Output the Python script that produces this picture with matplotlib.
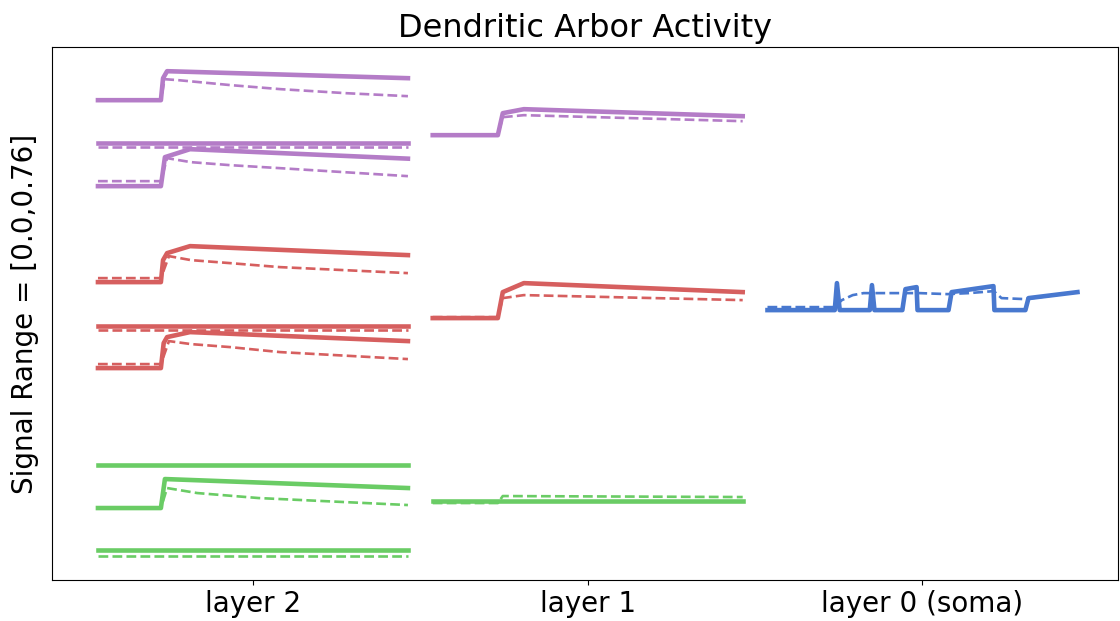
import matplotlib
matplotlib.use('Agg')
import matplotlib.pyplot as plt
import numpy as np

# compartment colours (old seaborn "muted")
purple = '#B47CC7'
red = '#D65F5F'
green = '#6ACC65'
blue = '#4878CF'

layer_names = ['layer 2', 'layer 1', 'layer 0 (soma)']
col_offset = 108.0   # horizontal spacing between layer columns (time units)
t_end = 100.0

# ---- layer 2 compartments: (time, value) for solid = activity, dashed = trace ----
l2_p1_t = [0, 20.3, 21, 22.3, 100]
l2_p1_y = [5.00, 5.00, 5.22, 5.29, 5.22]
l2_p1_dt = [0, 20.3, 21.5, 26, 43, 59, 80, 100]
l2_p1_dy = [5.00, 5.00, 5.21, 5.20, 5.15, 5.11, 5.07, 5.04]

l2_p2_t = [0, 100]
l2_p2_y = [4.57, 4.57]
l2_p2_dt = [0, 100]
l2_p2_dy = [4.53, 4.53]

l2_p3_t = [0, 20.3, 21.6, 29.7, 100]
l2_p3_y = [4.14, 4.14, 4.43, 4.51, 4.415]
l2_p3_dt = [0, 20.3, 22.3, 30, 42.6, 58.7, 100]
l2_p3_dy = [4.19, 4.19, 4.42, 4.38, 4.35, 4.32, 4.24]

l2_r1_t = [0, 20.3, 21, 22.3, 29.7, 100]
l2_r1_y = [3.18, 3.18, 3.40, 3.47, 3.54, 3.45]
l2_r1_dt = [0, 20.3, 22.9, 30, 42.6, 58.7, 100]
l2_r1_dy = [3.22, 3.22, 3.44, 3.40, 3.37, 3.33, 3.27]

l2_r2_t = [0, 100]
l2_r2_y = [2.74, 2.74]
l2_r2_dt = [0, 100]
l2_r2_dy = [2.70, 2.70]

l2_r3_t = [0, 20.3, 21.2, 22.3, 29.7, 100]
l2_r3_y = [2.32, 2.32, 2.57, 2.63, 2.68, 2.59]
l2_r3_dt = [0, 20.3, 22.9, 30, 42.6, 58.7, 100]
l2_r3_dy = [2.36, 2.36, 2.59, 2.56, 2.53, 2.48, 2.41]

l2_g1_t = [0, 100]
l2_g1_y = [1.35, 1.35]
l2_g1_dt = [0, 100]
l2_g1_dy = [1.35, 1.35]

l2_g2_t = [0, 20.3, 21.6, 100]
l2_g2_y = [0.92, 0.92, 1.21, 1.12]
l2_g2_dt = [0, 20.3, 22.3, 32, 51.8, 100]
l2_g2_dy = [0.92, 0.92, 1.12, 1.07, 1.02, 0.95]

l2_g3_t = [0, 100]
l2_g3_y = [0.50, 0.50]
l2_g3_dt = [0, 100]
l2_g3_dy = [0.44, 0.44]

# ---- layer 1 ----
l1_p_t = [0, 21, 22.6, 29.4, 100]
l1_p_y = [4.65, 4.65, 4.87, 4.91, 4.84]
l1_p_dt = [0, 21, 22.6, 29.4, 100]
l1_p_dy = [4.65, 4.65, 4.83, 4.85, 4.79]

l1_r_t = [0, 21, 22.6, 29.4, 100]
l1_r_y = [2.82, 2.82, 3.08, 3.17, 3.08]
l1_r_dt = [0, 21, 22.6, 29.4, 100]
l1_r_dy = [2.83, 2.83, 3.02, 3.05, 3.00]

l1_g_t = [0, 100]
l1_g_y = [0.99, 0.99]
l1_g_dt = [0, 21, 22.6, 100]
l1_g_dy = [0.97, 0.97, 1.04, 1.03]

# ---- layer 0 (soma) ----
l0_t = [0, 21.7, 22.4, 23.3, 33.0, 33.7, 34.5, 43.5, 44.5, 48.1, 48.4,
        58.4, 59.4, 72.9, 73.2, 83.2, 84.2, 100]
l0_y = [2.90, 2.90, 3.17, 2.90, 2.90, 3.15, 2.90, 2.90, 3.11, 3.13, 2.90,
        2.90, 3.08, 3.14, 2.90, 2.90, 3.02, 3.08]
l0_dt = [0, 21.5, 24, 27.5, 31, 44, 49, 58, 65, 73, 75.5, 83, 100]
l0_dy = [2.93, 2.93, 3.00, 3.05, 3.07, 3.07, 3.07, 3.06, 3.07, 3.09, 3.02, 3.01, 3.08]

columns = [
    [(l2_p1_t, l2_p1_y, l2_p1_dt, l2_p1_dy, purple),
     (l2_p2_t, l2_p2_y, l2_p2_dt, l2_p2_dy, purple),
     (l2_p3_t, l2_p3_y, l2_p3_dt, l2_p3_dy, purple),
     (l2_r1_t, l2_r1_y, l2_r1_dt, l2_r1_dy, red),
     (l2_r2_t, l2_r2_y, l2_r2_dt, l2_r2_dy, red),
     (l2_r3_t, l2_r3_y, l2_r3_dt, l2_r3_dy, red),
     (l2_g1_t, l2_g1_y, l2_g1_dt, l2_g1_dy, green),
     (l2_g2_t, l2_g2_y, l2_g2_dt, l2_g2_dy, green),
     (l2_g3_t, l2_g3_y, l2_g3_dt, l2_g3_dy, green)],
    [(l1_p_t, l1_p_y, l1_p_dt, l1_p_dy, purple),
     (l1_r_t, l1_r_y, l1_r_dt, l1_r_dy, red),
     (l1_g_t, l1_g_y, l1_g_dt, l1_g_dy, green)],
    [(l0_t, l0_y, l0_dt, l0_dy, blue)],
]

fig = plt.figure(figsize=(11.2, 6.21), dpi=100)
ax = fig.add_axes([0.0464, 0.066, 0.9516, 0.858])

for i, comps in enumerate(columns):
    x0 = i * col_offset
    for t, y, dt, dy, c in comps:
        ax.plot(np.array(t) + x0, y, color=c, lw=3.3)
        ax.plot(np.array(dt) + x0, dy, color=c, lw=1.9, ls='--')

ax.set_xlim(-14.84, 329.0)
ax.set_ylim(0.20, 5.53)
ax.set_xticks([i * col_offset + t_end / 2 for i in range(3)])
ax.set_xticklabels(layer_names, fontsize=20)
ax.tick_params(axis='x', length=3.5)
ax.set_yticks([])
ax.set_ylabel('Signal Range = [0.0,0.76]', fontsize=20, labelpad=9)
ax.set_title('Dendritic Arbor Activity', fontsize=23, pad=7)

fig.savefig('out.png', dpi=100)
